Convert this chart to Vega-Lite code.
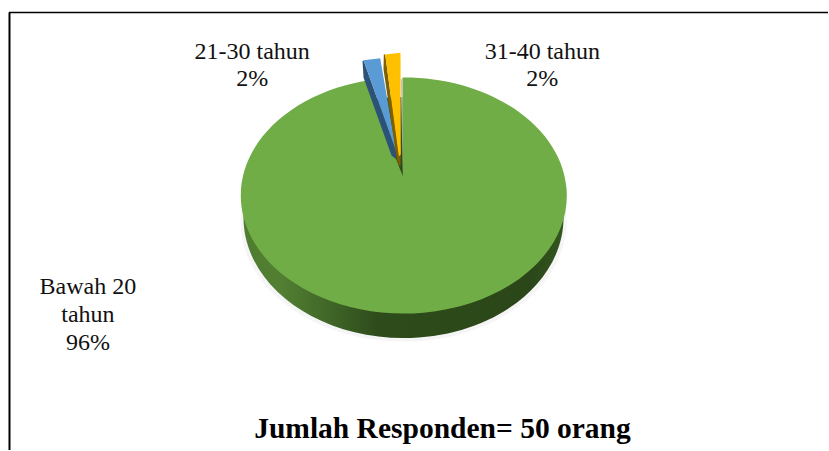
{
  "$schema": "https://vega.github.io/schema/vega-lite/v6.json",
  "width": 829,
  "height": 451,
  "autosize": {"type": "fit", "contains": "padding"},
  "padding": 0,
  "background": "#ffffff",
  "config": {"view": {"stroke": null}, "text": {"lineBreak": "\n"}},
  "datasets": {
    "responden": [
      {"kategori": "Bawah 20 tahun", "persen": 96, "label": "Bawah 20\ntahun\n96%"},
      {"kategori": "21-30 tahun", "persen": 2, "label": "21-30 tahun\n2%"},
      {"kategori": "31-40 tahun", "persen": 2, "label": "31-40 tahun\n2%"}
    ]
  },
  "data": {"name": "responden"},
  "layer": [
    {
      "description": "frame, left edge",
      "data": {"values": [{"tepi": "kiri"}]},
      "mark": {"type": "rule", "stroke": "#000000", "strokeWidth": 2},
      "encoding": {
        "x": {"datum": 9.5, "type": "quantitative", "scale": {"domain": [0, 829], "nice": false, "zero": false}, "axis": null},
        "y": {"datum": 12.5, "type": "quantitative", "scale": {"domain": [451, 0], "nice": false, "zero": false}, "axis": null},
        "y2": {"datum": 451}
      }
    },
    {
      "description": "frame, top edge",
      "data": {"values": [{"tepi": "atas"}]},
      "mark": {"type": "rule", "stroke": "#000000", "strokeWidth": 1.5},
      "encoding": {
        "x": {"datum": 9, "type": "quantitative", "scale": {"domain": [0, 829], "nice": false, "zero": false}, "axis": null},
        "x2": {"datum": 829},
        "y": {"datum": 12.5, "type": "quantitative", "scale": {"domain": [451, 0], "nice": false, "zero": false}, "axis": null}
      }
    },
    {
      "description": "soft shadow under the pie",
      "transform": [{"filter": "datum.kategori === 'Bawah 20 tahun'"}],
      "mark": {"type": "point", "filled": true, "size": 4, "opacity": 0.04, "fill": "#000000", "strokeWidth": 0,
        "shape": "M-163,26 A163,120 0 1 0 163,26 A163,120 0 1 0 -163,26 Z"},
      "encoding": {
        "x": {"datum": 404, "type": "quantitative", "scale": {"domain": [0, 829], "nice": false, "zero": false}, "axis": null},
        "y": {"datum": 196, "type": "quantitative", "scale": {"domain": [451, 0], "nice": false, "zero": false}, "axis": null}
      }
    },
    {
      "description": "pie wall of the largest slice",
      "transform": [{"filter": "datum.kategori === 'Bawah 20 tahun'"}],
      "mark": {"type": "point", "filled": true, "size": 4, "opacity": 1, "strokeWidth": 0,
        "fill": {"gradient": "linear", "x1": 0, "y1": 0, "x2": 1, "y2": 0, "stops": [
          {"offset": 0, "color": "#4f7d30"},
          {"offset": 0.12, "color": "#527f32"},
          {"offset": 0.28, "color": "#3f6426"},
          {"offset": 0.42, "color": "#2d4b1b"},
          {"offset": 0.9, "color": "#2b4719"},
          {"offset": 1, "color": "#33561f"}
        ]},
        "shape": "M-160,22 A160,120.5 0 1 0 160,22 A160,120.5 0 1 0 -160,22 Z"},
      "encoding": {
        "x": {"datum": 404, "type": "quantitative", "scale": {"domain": [0, 829], "nice": false, "zero": false}, "axis": null},
        "y": {"datum": 196, "type": "quantitative", "scale": {"domain": [451, 0], "nice": false, "zero": false}, "axis": null}
      }
    },
    {
      "description": "grey inner wall of the cut",
      "transform": [{"filter": "datum.kategori === 'Bawah 20 tahun'"}],
      "mark": {"type": "point", "filled": true, "size": 4, "opacity": 1, "fill": "#c4c4c4", "strokeWidth": 0,
        "shape": "M-2.7,-116 L-0.7,-118 L-0.7,-19.3 Z"},
      "encoding": {
        "x": {"datum": 404, "type": "quantitative", "scale": {"domain": [0, 829], "nice": false, "zero": false}, "axis": null},
        "y": {"datum": 196, "type": "quantitative", "scale": {"domain": [451, 0], "nice": false, "zero": false}, "axis": null}
      }
    },
    {
      "description": "top face of the 96% slice",
      "transform": [{"filter": "datum.kategori === 'Bawah 20 tahun'"}],
      "mark": {"type": "point", "filled": true, "size": 4, "opacity": 1, "fill": "#70ad47", "strokeWidth": 0,
        "shape": "M-0.7,-118 A163,118 0 1 1 -38,-114.7 L-0.7,-19.3 Z"},
      "encoding": {
        "x": {"datum": 404, "type": "quantitative", "scale": {"domain": [0, 829], "nice": false, "zero": false}, "axis": null},
        "y": {"datum": 196, "type": "quantitative", "scale": {"domain": [451, 0], "nice": false, "zero": false}, "axis": null}
      }
    },
    {
      "description": "side of the pulled-out blue slice",
      "transform": [{"filter": "datum.kategori === '21-30 tahun'"}],
      "mark": {"type": "point", "filled": true, "size": 4, "opacity": 1, "fill": "#2c5377", "strokeWidth": 0,
        "shape": "M-41,-134 L-40,-118 L-12,-40 L-7,-36 L-8,-46 L-40,-135.3 Z"},
      "encoding": {
        "x": {"datum": 404, "type": "quantitative", "scale": {"domain": [0, 829], "nice": false, "zero": false}, "axis": null},
        "y": {"datum": 196, "type": "quantitative", "scale": {"domain": [451, 0], "nice": false, "zero": false}, "axis": null}
      }
    },
    {
      "description": "top face of the blue slice",
      "transform": [{"filter": "datum.kategori === '21-30 tahun'"}],
      "mark": {"type": "point", "filled": true, "size": 4, "opacity": 1, "fill": "#5b9bd5", "strokeWidth": 0,
        "shape": "M-40,-135.3 L-23.3,-137.3 L-6.7,-41 L-8,-46 Z"},
      "encoding": {
        "x": {"datum": 404, "type": "quantitative", "scale": {"domain": [0, 829], "nice": false, "zero": false}, "axis": null},
        "y": {"datum": 196, "type": "quantitative", "scale": {"domain": [451, 0], "nice": false, "zero": false}, "axis": null}
      }
    },
    {
      "description": "side of the pulled-out yellow slice",
      "transform": [{"filter": "datum.kategori === '31-40 tahun'"}],
      "mark": {"type": "point", "filled": true, "size": 4, "opacity": 1, "fill": "#7f6000", "strokeWidth": 0,
        "shape": "M-19.7,-141 L-20,-126 L-7,-38 L-4.7,-30 L-3,-30 L-2.7,-41 L-4.7,-39 L-18.3,-141 Z"},
      "encoding": {
        "x": {"datum": 404, "type": "quantitative", "scale": {"domain": [0, 829], "nice": false, "zero": false}, "axis": null},
        "y": {"datum": 196, "type": "quantitative", "scale": {"domain": [451, 0], "nice": false, "zero": false}, "axis": null}
      }
    },
    {
      "description": "top face of the yellow slice",
      "transform": [{"filter": "datum.kategori === '31-40 tahun'"}],
      "mark": {"type": "point", "filled": true, "size": 4, "opacity": 1, "fill": "#ffc000", "strokeWidth": 0,
        "shape": "M-18.3,-141 L-3,-142.7 L-2.7,-41 L-4.7,-39 Z"},
      "encoding": {
        "x": {"datum": 404, "type": "quantitative", "scale": {"domain": [0, 829], "nice": false, "zero": false}, "axis": null},
        "y": {"datum": 196, "type": "quantitative", "scale": {"domain": [451, 0], "nice": false, "zero": false}, "axis": null}
      }
    },
    {
      "transform": [{"filter": "datum.kategori === '21-30 tahun'"}],
      "mark": {"type": "text", "font": "Liberation Serif", "fontSize": 24, "lineHeight": 27, "align": "center", "baseline": "middle", "fill": "#111111"},
      "encoding": {
        "text": {"field": "label"},
        "x": {"datum": 252.5, "type": "quantitative", "scale": {"domain": [0, 829], "nice": false, "zero": false}, "axis": null},
        "y": {"datum": 52.5, "type": "quantitative", "scale": {"domain": [451, 0], "nice": false, "zero": false}, "axis": null}
      }
    },
    {
      "transform": [{"filter": "datum.kategori === '31-40 tahun'"}],
      "mark": {"type": "text", "font": "Liberation Serif", "fontSize": 24, "lineHeight": 27, "align": "center", "baseline": "middle", "fill": "#111111"},
      "encoding": {
        "text": {"field": "label"},
        "x": {"datum": 543, "type": "quantitative", "scale": {"domain": [0, 829], "nice": false, "zero": false}, "axis": null},
        "y": {"datum": 52.5, "type": "quantitative", "scale": {"domain": [451, 0], "nice": false, "zero": false}, "axis": null}
      }
    },
    {
      "transform": [{"filter": "datum.kategori === 'Bawah 20 tahun'"}],
      "mark": {"type": "text", "font": "Liberation Serif", "fontSize": 24, "lineHeight": 28, "align": "center", "baseline": "middle", "fill": "#111111"},
      "encoding": {
        "text": {"field": "label"},
        "x": {"datum": 88, "type": "quantitative", "scale": {"domain": [0, 829], "nice": false, "zero": false}, "axis": null},
        "y": {"datum": 288, "type": "quantitative", "scale": {"domain": [451, 0], "nice": false, "zero": false}, "axis": null}
      }
    },
    {
      "data": {"values": [{"judul": "Jumlah Responden= 50 orang"}]},
      "mark": {"type": "text", "font": "Liberation Serif", "fontSize": 29.5, "fontWeight": "bold", "align": "center", "baseline": "middle", "fill": "#000000"},
      "encoding": {
        "text": {"field": "judul"},
        "x": {"datum": 443, "type": "quantitative", "scale": {"domain": [0, 829], "nice": false, "zero": false}, "axis": null},
        "y": {"datum": 430, "type": "quantitative", "scale": {"domain": [451, 0], "nice": false, "zero": false}, "axis": null}
      }
    }
  ]
}
